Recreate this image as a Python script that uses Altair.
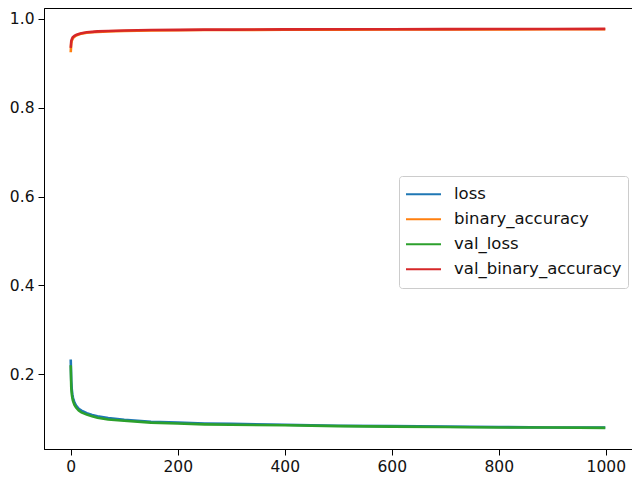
import altair as alt
import pandas as pd

epochs = [0, 1, 2, 3, 4, 5, 7, 10, 15, 20, 30, 40, 50, 70, 100, 150, 200, 250,
          300, 400, 500, 600, 700, 800, 900, 999]

loss = [0.233, 0.185, 0.165, 0.155, 0.148, 0.143, 0.136, 0.129, 0.122, 0.118,
        0.112, 0.108, 0.105, 0.101, 0.097, 0.093, 0.091, 0.089, 0.088, 0.086,
        0.084, 0.083, 0.082, 0.081, 0.080, 0.080]
binary_accuracy = [0.925, 0.945, 0.951, 0.954, 0.956, 0.958, 0.960, 0.963, 0.965,
                   0.967, 0.969, 0.970, 0.971, 0.972, 0.973, 0.974, 0.9745, 0.975,
                   0.9752, 0.9756, 0.976, 0.9762, 0.9764, 0.9766, 0.9768, 0.977]
val_loss = [0.220, 0.170, 0.155, 0.147, 0.141, 0.137, 0.131, 0.125, 0.118, 0.114,
            0.109, 0.105, 0.102, 0.098, 0.095, 0.091, 0.089, 0.087, 0.086, 0.085,
            0.083, 0.082, 0.081, 0.080, 0.080, 0.079]
val_binary_accuracy = [0.935, 0.950, 0.954, 0.957, 0.959, 0.960, 0.962, 0.964,
                       0.966, 0.968, 0.970, 0.971, 0.972, 0.973, 0.974, 0.975,
                       0.9755, 0.976, 0.976, 0.9765, 0.977, 0.977, 0.9772, 0.9774,
                       0.9775, 0.9776]

series_names = ["loss", "binary_accuracy", "val_loss", "val_binary_accuracy"]
series_values = [loss, binary_accuracy, val_loss, val_binary_accuracy]
colors = ["#1f77b4", "#ff7f0e", "#2ca02c", "#d62728"]

x_ticks = [0, 200, 400, 600, 800, 1000]
y_ticks = [0.2, 0.4, 0.6, 0.8, 1.0]

rows = []
for k, (name, vals) in enumerate(zip(series_names, series_values)):
    for e, v in zip(epochs, vals):
        rows.append({"epoch": e, "value": v, "series": name, "order": k})
df = pd.DataFrame(rows)

FONT = "DejaVu Sans"

chart = alt.Chart(df).mark_line(strokeWidth=2.6).encode(
    x=alt.X("epoch:Q",
            scale=alt.Scale(domain=[-49.95, 1048.95], nice=False, zero=False),
            axis=alt.Axis(values=x_ticks, title=None, grid=False, format="d")),
    y=alt.Y("value:Q",
            scale=alt.Scale(domain=[0.0315, 1.0247], nice=False, zero=False),
            axis=alt.Axis(values=y_ticks, title=None, grid=False, format=".1f")),
    color=alt.Color("series:N",
                    scale=alt.Scale(domain=series_names, range=colors),
                    legend=alt.Legend(title=None, orient="none", legendX=355, legendY=168,
                                      symbolType="stroke", symbolSize=1225,
                                      symbolStrokeWidth=2, labelFontSize=16.5,
                                      labelFont=FONT, labelColor="#111",
                                      labelOffset=12, rowPadding=0,
                                      clipHeight=24.5,
                                      labelLimit=400,
                                      padding=6, strokeColor="#cccccc",
                                      fillColor="white", cornerRadius=3)),
    detail="order:O",
    order="epoch:Q",
).properties(
    width=588, height=441,
    autosize=alt.AutoSizeParams(type="none"),
    padding={"left": 36, "top": 0, "right": 0, "bottom": 27},
).configure_view(
    stroke="black", strokeWidth=1
).configure_axis(
    domainColor="black", tickColor="black", tickSize=6, tickWidth=1,
    labelFont=FONT, labelFontSize=15.5, labelColor="#111", labelPadding=4,
    domainWidth=1
)

chart.save("out.html", embed_options={"renderer": "svg", "actions": False})
